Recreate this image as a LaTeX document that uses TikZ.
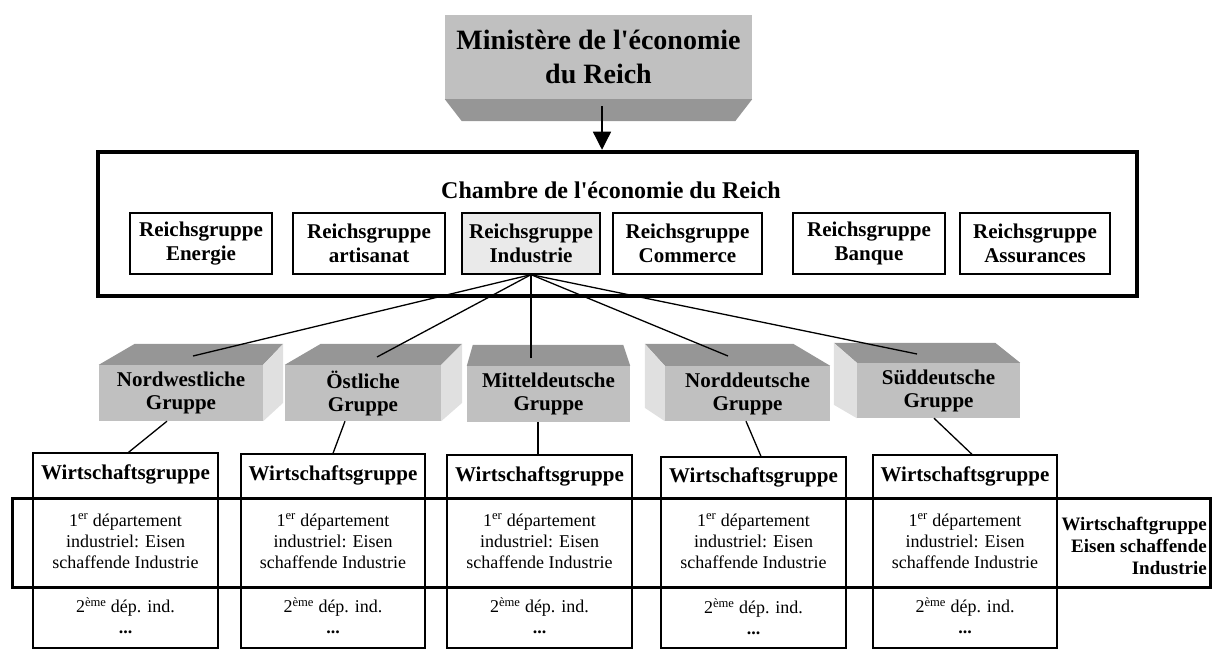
\documentclass[tikz,border=0pt]{standalone}
\usepackage{fontspec}
\setmainfont{Liberation Serif}[Ligatures=TeXOff]
\usepackage{tikz}
\usetikzlibrary{calc}
\usetikzlibrary{arrows.meta}
\definecolor{frontgray}{HTML}{C0C0C0}
\definecolor{topgray}{HTML}{969696}
\definecolor{sidegray}{HTML}{E0E0E0}
\definecolor{paleindustry}{HTML}{EAEAEA}
\tikzstyle{ministry} = [fill=frontgray,align=center,inner sep=0pt,minimum width=307pt,minimum height=84pt,font=\fontsize{28}{34}\selectfont\bfseries]
\tikzstyle{chamber} = [draw,line width=4.5pt,minimum width=1039pt,minimum height=144pt,inner sep=0pt]
\tikzstyle{chambertitle} = [inner sep=0pt,font=\fontsize{24}{27}\selectfont\bfseries]
\tikzstyle{reichsgruppe} = [draw,line width=1.3pt,align=center,inner sep=0pt,minimum height=61pt,font=\fontsize{21}{24}\selectfont\bfseries]
\tikzstyle{gruppe} = [fill=frontgray,align=center,inner sep=0pt,minimum height=56pt,font=\fontsize{21}{23}\selectfont\bfseries]
\tikzstyle{wbox} = [draw,line width=1.3pt,inner sep=0pt]
\tikzstyle{whead} = [inner sep=0pt,font=\fontsize{21}{23}\selectfont\bfseries]
\tikzstyle{wtext} = [align=center,inner sep=0pt,font=\fontsize{18}{21}\selectfont]
\tikzstyle{link} = [line width=1.3pt]
\tikzstyle{band} = [draw,line width=3pt]

\begin{document}
\begin{tikzpicture}[x=1pt,y=-1pt]
\useasboundingbox (0,0) rectangle (1212,650);

% ministry
\node[ministry] (mini) at (598.5,57) {Minist\`ere de l'\'economie\\du Reich};
\fill[topgray] (mini.south west) -- (mini.south east) -- ++(-17,22) -- ($(mini.south west)+(17,22)$) -- cycle;

% chamber
\node[chamber] (chambre) at (617.5,224) {};
\node[chambertitle] (chtitle) at (611,190) {Chambre de l'\'economie du Reich};
\draw[link,-{Triangle[width=18pt,length=18pt]}] ([xshift=3.5pt,yshift=-7pt]mini.south) -- ([xshift=3.5pt]mini.south |- chambre.north);

\node[reichsgruppe,minimum width=142pt] (energie) at (201,243.5) {Reichsgruppe\\Energie};
\node[reichsgruppe,minimum width=152pt] (artisanat) at (369,243.5) {Reichsgruppe\\artisanat};
\node[reichsgruppe,minimum width=138pt,fill=paleindustry] (industrie) at (531,243.5) {Reichsgruppe\\Industrie};
\node[reichsgruppe,minimum width=149pt] (commerce) at (687.5,243.5) {Reichsgruppe\\Commerce};
\node[reichsgruppe,minimum width=152pt] (banque) at (869,243.5) {Reichsgruppe\\Banque};
\node[reichsgruppe,minimum width=150pt] (assurances) at (1035,243.5) {Reichsgruppe\\Assurances};

% regional groups
\node[gruppe,minimum width=164pt] (nwg) at (181,393) {Nordwestliche\\Gruppe};
\node[gruppe,minimum width=156pt] (ostg) at (363,393) {\"Ostliche\\Gruppe};
\node[gruppe,minimum width=163pt] (mitg) at (548.5,394) {Mitteldeutsche\\Gruppe};
\node[gruppe,minimum width=165pt,minimum height=55pt] (nodg) at (747.5,393.5) {Norddeutsche\\Gruppe};
\node[gruppe,minimum width=163pt,minimum height=55pt] (sudg) at (938.5,390.5) {S\"uddeutsche\\Gruppe};

\fill[topgray] (nwg.north west) -- (nwg.north east) -- ++(20,-21) -- ($(nwg.north west)+(36,-21)$) -- cycle;
\fill[sidegray] (nwg.north east) -- ++(20,-21) -- ++(0,59) -- (nwg.south east) -- cycle;
\fill[topgray] (ostg.north west) -- (ostg.north east) -- ++(21,-21) -- ($(ostg.north west)+(36,-21)$) -- cycle;
\fill[sidegray] (ostg.north east) -- ++(21,-21) -- ++(0,59) -- (ostg.south east) -- cycle;
\fill[topgray] (mitg.north west) -- (mitg.north east) -- ++(-7,-21) -- ($(mitg.north west)+(6,-21)$) -- cycle;
\fill[topgray] (nodg.north west) -- (nodg.north east) -- ++(-37,-22) -- ($(nodg.north west)+(-20,-22)$) -- cycle;
\fill[sidegray] (nodg.north west) -- ++(-20,-22) -- ++(0,64) -- (nodg.south west) -- cycle;
\fill[topgray] (sudg.north west) -- (sudg.north east) -- ++(-25,-20) -- ($(sudg.north west)+(-23,-20)$) -- cycle;
\fill[sidegray] (sudg.north west) -- ++(-23,-20) -- ++(0,62) -- (sudg.south west) -- cycle;

\coordinate (nwtop) at (193,356);
\coordinate (osttop) at (377,357);
\coordinate (mittop) at (531,358);
\coordinate (nodtop) at (728,356);
\coordinate (sudtop) at (917,354);
\draw[link] (industrie.south) -- (nwtop);
\draw[link] (industrie.south) -- (osttop);
\draw[link] (industrie.south) -- (mittop);
\draw[link] (industrie.south) -- (nodtop);
\draw[link] (industrie.south) -- (sudtop);

% Wirtschaftsgruppen
\node[wbox,minimum width=185pt,minimum height=195pt] (w1) at (125.5,550.5) {};
\node[wbox,minimum width=184pt,minimum height=194pt] (w2) at (333,551) {};
\node[wbox,minimum width=185pt,minimum height=193pt] (w3) at (539.5,551.5) {};
\node[wbox,minimum width=185pt,minimum height=191pt] (w4) at (753.5,552.5) {};
\node[wbox,minimum width=184pt,minimum height=193pt] (w5) at (965,551.5) {};

\draw[band] (12,498) rectangle (1210,587);

\node[whead] (w1h) at ($(w1.north)+(0,22)$) {Wirtschaftsgruppe};
\node[whead] (w2h) at ($(w2.north)+(0,22)$) {Wirtschaftsgruppe};
\node[whead] (w3h) at ($(w3.north)+(0,22)$) {Wirtschaftsgruppe};
\node[whead] (w4h) at ($(w4.north)+(0,21)$) {Wirtschaftsgruppe};
\node[whead] (w5h) at ($(w5.north)+(0,22)$) {Wirtschaftsgruppe};

\node[wtext] (w1d) at (125.5,541) {1\textsuperscript{er} d\'epartement\\industriel: Eisen\\schaffende Industrie};
\node[wtext] (w2d) at (333,541) {1\textsuperscript{er} d\'epartement\\industriel: Eisen\\schaffende Industrie};
\node[wtext] (w3d) at (539.5,541) {1\textsuperscript{er} d\'epartement\\industriel: Eisen\\schaffende Industrie};
\node[wtext] (w4d) at (753.5,541) {1\textsuperscript{er} d\'epartement\\industriel: Eisen\\schaffende Industrie};
\node[wtext] (w5d) at (965,541) {1\textsuperscript{er} d\'epartement\\industriel: Eisen\\schaffende Industrie};

\node[wtext] (w1n) at (125.5,616) {2\textsuperscript{\`eme} d\'ep. ind.\\\textbf{...}};
\node[wtext] (w2n) at (333,616) {2\textsuperscript{\`eme} d\'ep. ind.\\\textbf{...}};
\node[wtext] (w3n) at (539.5,616) {2\textsuperscript{\`eme} d\'ep. ind.\\\textbf{...}};
\node[wtext] (w4n) at (753.5,617) {2\textsuperscript{\`eme} d\'ep. ind.\\\textbf{...}};
\node[wtext] (w5n) at (965,616) {2\textsuperscript{\`eme} d\'ep. ind.\\\textbf{...}};

\draw[link] ([xshift=-14pt]nwg.south) -- ([xshift=3pt]w1.north);
\draw[link] ([xshift=-18pt]ostg.south) -- (w2.north);
\draw[link] ([xshift=-10.5pt]mitg.south) -- ([xshift=-1.5pt]w3.north);
\draw[link] ([xshift=-1.5pt]nodg.south) -- ([xshift=7.5pt]w4.north);
\draw[link] ([xshift=-4.5pt]sudg.south) -- ([xshift=7pt]w5.north);

\node[anchor=east,align=right,inner sep=0pt,font=\fontsize{19}{22}\selectfont\bfseries] (bandlbl) at (1207,546) {Wirtschaftgruppe\\Eisen schaffende\\Industrie};

\end{tikzpicture}
\end{document}
